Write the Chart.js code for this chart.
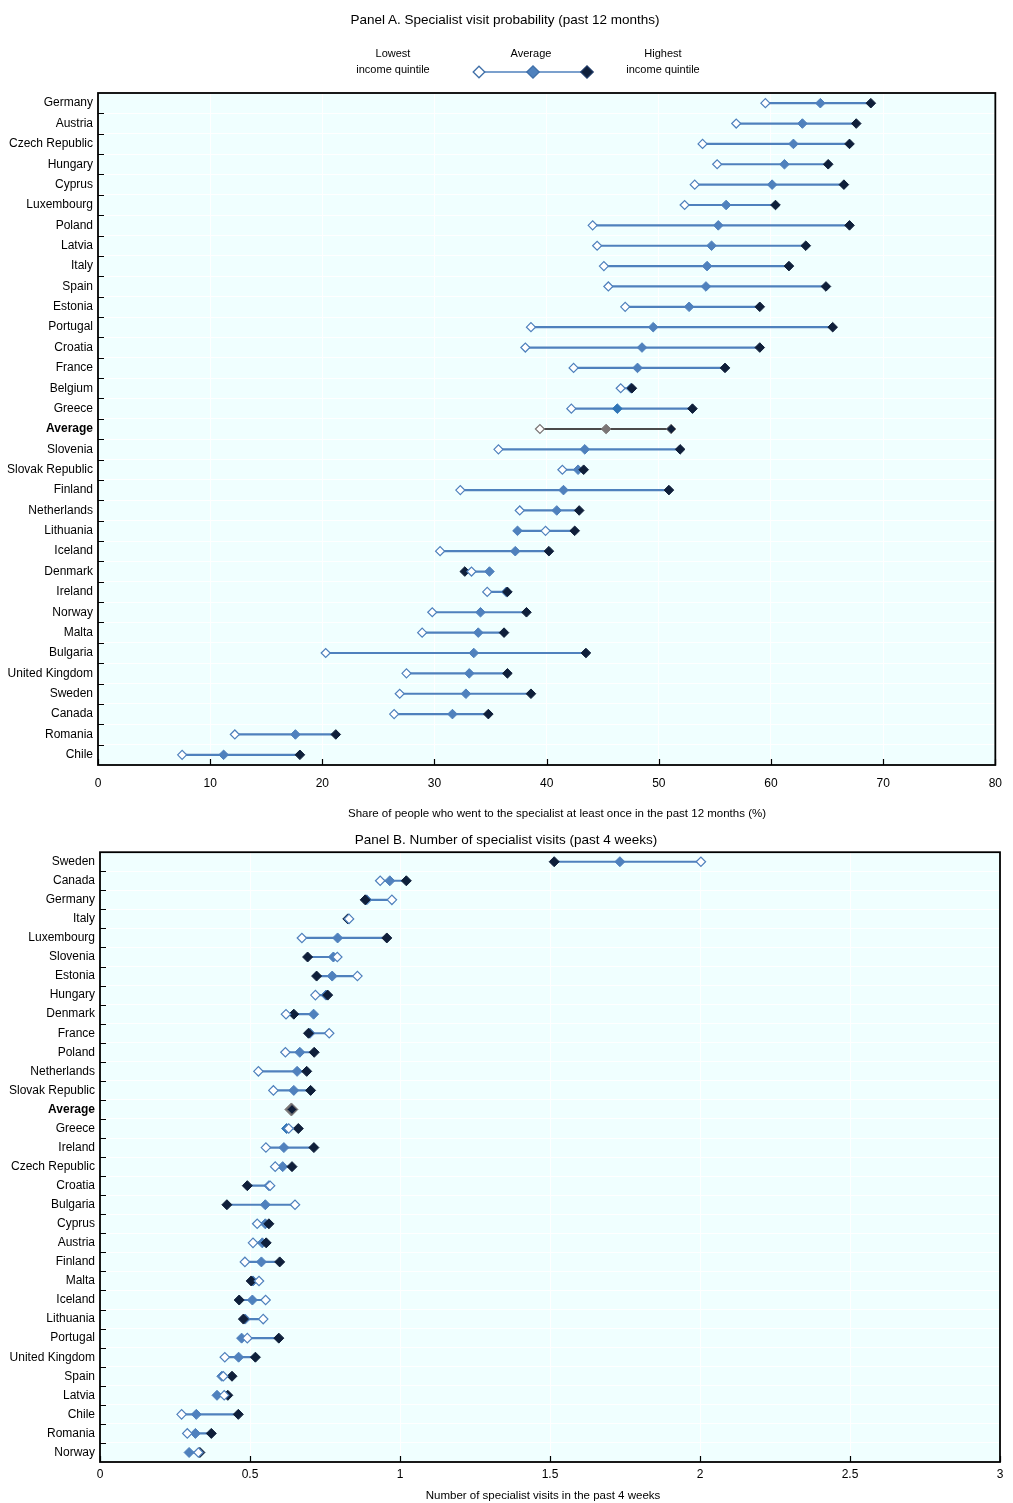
<!DOCTYPE html>
<html lang="en">
<head>
<meta charset="UTF-8">
<title>Specialist visits by income quintile</title>
<script src="https://cdn.jsdelivr.net/npm/chart.js"></script>
<style>
  body { margin: 0; background: #fff; font-family: "Liberation Sans", Arial, sans-serif; }
  #wrap { position: relative; width: 1013px; height: 1503px; }
  .t { position: absolute; white-space: nowrap; color: #000; transform: translateX(-50%); text-align: center; }
  .box { position: absolute; left: 0; width: 1013px; }
</style>
</head>
<body>
<div id="wrap">
  <div class="box" style="top:0;height:830px"><canvas id="chartA"></canvas></div>
  <div class="box" style="top:840px;height:650px"><canvas id="chartB"></canvas></div>

  <div class="t" style="left:505px;top:12px;font-size:13.5px">Panel A. Specialist visit probability (past 12 months)</div>
  <div class="t" style="left:393px;top:45px;font-size:11px;line-height:16px">Lowest<br>income quintile</div>
  <div class="t" style="left:531px;top:45px;font-size:11px;line-height:16px">Average</div>
  <div class="t" style="left:663px;top:45px;font-size:11px;line-height:16px">Highest<br>income quintile</div>
  <div class="t" style="left:557px;top:807px;font-size:11.5px">Share of people who went to the specialist at least once in the past 12 months (%)</div>
  <div class="t" style="left:506px;top:832px;font-size:13.5px">Panel B. Number of specialist visits (past 4 weeks)</div>
  <div class="t" style="left:543px;top:1489px;font-size:11.5px">Number of specialist visits in the past 4 weeks</div>
</div>
<script>
// Panel A: share who saw a specialist in past 12 months (%)
const countriesA = ['Germany', 'Austria', 'Czech Republic', 'Hungary', 'Cyprus', 'Luxembourg', 'Poland', 'Latvia',
  'Italy', 'Spain', 'Estonia', 'Portugal', 'Croatia', 'France', 'Belgium', 'Greece', 'Average', 'Slovenia',
  'Slovak Republic', 'Finland', 'Netherlands', 'Lithuania', 'Iceland', 'Denmark', 'Ireland', 'Norway', 'Malta',
  'Bulgaria', 'United Kingdom', 'Sweden', 'Canada', 'Romania', 'Chile'];
const lowA = [59.5, 56.9, 53.9, 55.2, 53.2, 52.3, 44.1, 44.5, 45.1, 45.5, 47.0, 38.6, 38.1, 42.4, 46.6, 42.2, 39.4,
  35.7, 41.4, 32.3, 37.6, 39.9, 30.5, 33.3, 34.7, 29.8, 28.9, 20.3, 27.5, 26.9, 26.4, 12.2, 7.5];
const avgA = [64.4, 62.8, 62.0, 61.2, 60.1, 56.0, 55.3, 54.7, 54.3, 54.2, 52.7, 49.5, 48.5, 48.1, 47.5, 46.3, 45.3,
  43.4, 42.8, 41.5, 40.9, 37.4, 37.2, 34.9, 36.4, 34.1, 33.9, 33.5, 33.1, 32.8, 31.6, 17.6, 11.2];
const highA = [68.9, 67.6, 67.0, 65.1, 66.5, 60.4, 67.0, 63.1, 61.6, 64.9, 59.0, 65.5, 59.0, 55.9, 47.6, 53.0, 51.1,
  51.9, 43.3, 50.9, 42.9, 42.5, 40.2, 32.7, 36.5, 38.2, 36.2, 43.5, 36.5, 38.6, 34.8, 21.2, 18.0];

// Panel B: number of specialist visits in past 4 weeks
const countriesB = ['Sweden', 'Canada', 'Germany', 'Italy', 'Luxembourg', 'Slovenia', 'Estonia', 'Hungary', 'Denmark',
  'France', 'Poland', 'Netherlands', 'Slovak Republic', 'Average', 'Greece', 'Ireland', 'Czech Republic', 'Croatia',
  'Bulgaria', 'Cyprus', 'Austria', 'Finland', 'Malta', 'Iceland', 'Lithuania', 'Portugal', 'United Kingdom', 'Spain',
  'Latvia', 'Chile', 'Romania', 'Norway'];
const lowB = [2.003, 0.934, 0.973, 0.830, 0.673, 0.791, 0.858, 0.718, 0.620, 0.764, 0.618, 0.528, 0.578, 0.637, 0.629,
  0.553, 0.584, 0.567, 0.650, 0.524, 0.510, 0.483, 0.530, 0.552, 0.544, 0.491, 0.416, 0.411, 0.414, 0.272, 0.291, 0.328];
const avgB = [1.733, 0.966, 0.889, 0.828, 0.792, 0.778, 0.774, 0.753, 0.712, 0.700, 0.666, 0.657, 0.646, 0.638, 0.622,
  0.613, 0.609, 0.563, 0.551, 0.551, 0.541, 0.538, 0.510, 0.508, 0.484, 0.472, 0.462, 0.406, 0.390, 0.321, 0.318, 0.297];
const highB = [1.514, 1.021, 0.884, 0.826, 0.956, 0.692, 0.722, 0.759, 0.646, 0.695, 0.714, 0.689, 0.702, 0.640, 0.661,
  0.713, 0.640, 0.491, 0.423, 0.563, 0.554, 0.599, 0.504, 0.464, 0.478, 0.596, 0.518, 0.440, 0.426, 0.461, 0.371, 0.333];

const xTicksA = [0, 10, 20, 30, 40, 50, 60, 70, 80];
const xTicksB = [0, 0.5, 1, 1.5, 2, 2.5, 3];

const BLUE = '#4f81bd';
const BRIGHT = '#2e75b6';
const DARK = '#0f1f3a';
const GREY = '#7a7676';
const FONT = '"Liberation Sans", Arial, sans-serif';

function diamond(ctx, x, y, r, fill, stroke) {
  ctx.beginPath();
  ctx.moveTo(x - r, y); ctx.lineTo(x, y - r); ctx.lineTo(x + r, y); ctx.lineTo(x, y + r);
  ctx.closePath();
  ctx.fillStyle = fill; ctx.fill();
  ctx.lineWidth = 1.3; ctx.strokeStyle = stroke; ctx.stroke();
}

const frame = {
  id: 'frame',
  beforeDraw(chart) {
    const a = chart.chartArea, ctx = chart.ctx;
    ctx.save();
    ctx.fillStyle = '#f0ffff';
    ctx.fillRect(a.left, a.top, a.right - a.left, a.bottom - a.top);
    ctx.restore();
  },
  afterDraw(chart, args, opts) {
    const a = chart.chartArea, ctx = chart.ctx;
    const xs = chart.scales.x, ys = chart.scales.y;
    ctx.save();
    ctx.strokeStyle = '#000';
    ctx.lineWidth = 1.2;
    ctx.beginPath();
    // inner ticks between categories
    for (let i = 1; i < ys.ticks.length; i++) {
      const y = Math.round((ys.getPixelForValue(i - 1) + ys.getPixelForValue(i)) / 2) + 0.5;
      ctx.moveTo(a.left, y); ctx.lineTo(a.left + 6, y);
    }
    xs.ticks.forEach(t => {
      const x = Math.round(xs.getPixelForValue(t.value)) + 0.5;
      ctx.moveTo(x, a.bottom); ctx.lineTo(x, a.bottom - 6);
    });
    ctx.stroke();
    ctx.lineWidth = 1.8;
    ctx.strokeRect(a.left, a.top, a.right - a.left, a.bottom - a.top);
    if (opts.legend) {
      const y = 72;
      ctx.lineWidth = 1.5; ctx.strokeStyle = BLUE;
      ctx.beginPath(); ctx.moveTo(479, y); ctx.lineTo(587, y); ctx.stroke();
      diamond(ctx, 479, y, 5.8, '#fff', '#3f6fa8');
      diamond(ctx, 533, y, 6.2, BLUE, '#3f6fa8');
      diamond(ctx, 587, y, 6.2, DARK, '#1f3a66');
    }
    ctx.restore();
  }
};

function makeChart(id, labels, low, avg, high, ticks, cfg) {
  const avgIdx = labels.indexOf('Average');
  const greeceIdx = labels.indexOf('Greece');
  const r = cfg.radius;
  const pick = (norm, avgCol, gr) => c => c.dataIndex === avgIdx ? avgCol : (gr && c.dataIndex === greeceIdx ? gr : norm);
  const ranges = low.map((l, i) => [Math.min(l, avg[i], high[i]), Math.max(l, avg[i], high[i])]);
  return new Chart(document.getElementById(id), {
    data: {
      labels: labels,
      datasets: [
        {
          type: 'line', label: 'Lowest income quintile', data: low, order: 1, showLine: false,
          pointStyle: 'rectRot', pointBorderWidth: 1.2,
          // in panel B the average row's low marker sits under the other two
          pointRadius: c => (cfg.hideAvgLow && c.dataIndex === avgIdx) ? 0 : r - 0.3,
          pointBackgroundColor: '#fff', pointBorderColor: pick(BLUE, GREY)
        },
        {
          type: 'line', label: 'Highest income quintile', data: high, order: 2, showLine: false,
          pointStyle: 'rectRot', pointRadius: r, pointBorderWidth: 1,
          pointBackgroundColor: DARK, pointBorderColor: pick(DARK, GREY)
        },
        {
          type: 'line', label: 'Average', data: avg, order: 3, showLine: false,
          pointStyle: 'rectRot', pointRadius: c => c.dataIndex === avgIdx ? r + cfg.avgBoost : r, pointBorderWidth: 1,
          pointBackgroundColor: pick(BLUE, GREY, BRIGHT), pointBorderColor: pick(BLUE, GREY, BRIGHT)
        },
        {
          type: 'bar', label: 'range', data: ranges, order: 4,
          backgroundColor: pick(BLUE, '#4a4a4a'), barThickness: 1.5, borderWidth: 0
        }
      ]
    },
    options: {
      indexAxis: 'y',
      responsive: true,
      maintainAspectRatio: false,
      animation: false,
      layout: { padding: cfg.padding },
      plugins: { legend: { display: false }, tooltip: { enabled: false }, frame: { legend: cfg.legend } },
      scales: {
        x: {
          type: 'linear', min: ticks[0], max: ticks[ticks.length - 1],
          afterBuildTicks: s => { s.ticks = ticks.map(v => ({ value: v })); },
          afterFit: s => { s.height = cfg.xHeight; },
          grid: { color: '#ffffff', lineWidth: 1, drawTicks: false },
          border: { display: false },
          ticks: {
            color: '#000', padding: cfg.xPad, font: { family: FONT, size: 12 },
            callback: v => String(v)
          }
        },
        y: {
          type: 'category', offset: true,
          afterFit: s => { s.width = cfg.yWidth; },
          grid: { color: '#ffffff', lineWidth: 1, offset: true, drawTicks: false },
          border: { display: false },
          ticks: {
            color: '#000', padding: 5, autoSkip: false,
            font: c => ({ family: FONT, size: 12, weight: c.index === avgIdx ? 'bold' : 'normal' })
          }
        }
      }
    },
    plugins: [frame]
  });
}

makeChart('chartA', countriesA, lowA, avgA, highA, xTicksA,
  { radius: 4.8, avgBoost: 0, hideAvgLow: false, padding: { top: 93, right: 8, left: 0, bottom: 0 }, xHeight: 65, yWidth: 98, xPad: 11, legend: true });
makeChart('chartB', countriesB, lowB, avgB, highB, xTicksB,
  { radius: 5, avgBoost: 1.5, hideAvgLow: true, padding: { top: 12, right: 13, left: 0, bottom: 0 }, xHeight: 28, yWidth: 100, xPad: 5, legend: false });
</script>
</body>
</html>
